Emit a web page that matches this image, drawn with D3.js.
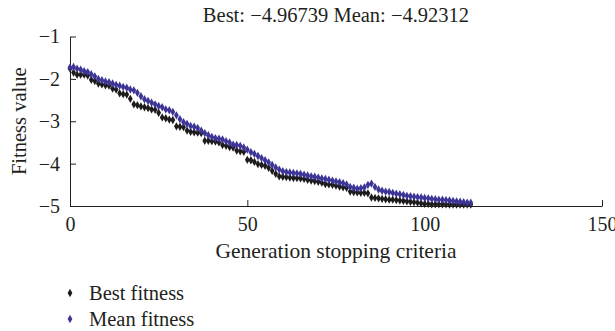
<!DOCTYPE html>
<html>
<head>
<meta charset="utf-8">
<script src="https://cdn.jsdelivr.net/npm/d3@7"></script>
<style>
  body { margin: 0; background: #fff; }
  svg text { font-family: "Liberation Serif", "DejaVu Serif", serif; fill: #231f20; }
</style>
</head>
<body>
<div id="chart"></div>
<script>
// values, one per generation (0..113)
const bestFitness = [
  -1.76, -1.85, -1.90, -1.90, -1.90, -1.92, -2.02, -2.05, -2.11, -2.13,
  -2.15, -2.16, -2.23, -2.25, -2.34, -2.36, -2.37, -2.47, -2.60, -2.62,
  -2.65, -2.67, -2.69, -2.72, -2.73, -2.80, -2.91, -2.93, -2.96, -2.97,
  -3.12, -3.13, -3.14, -3.22, -3.25, -3.26, -3.27, -3.28, -3.46, -3.46,
  -3.47, -3.48, -3.50, -3.56, -3.58, -3.61, -3.62, -3.69, -3.71, -3.72,
  -3.91, -3.92, -3.96, -4.01, -4.03, -4.05, -4.10, -4.17, -4.24, -4.30,
  -4.31, -4.32, -4.33, -4.34, -4.34, -4.35, -4.36, -4.38, -4.40, -4.41,
  -4.43, -4.45, -4.48, -4.49, -4.50, -4.52, -4.54, -4.56, -4.57, -4.66,
  -4.67, -4.68, -4.69, -4.69, -4.70, -4.80, -4.81, -4.82, -4.83, -4.84,
  -4.85, -4.85, -4.86, -4.87, -4.88, -4.89, -4.90, -4.91, -4.92, -4.94,
  -4.95, -4.95, -4.96, -4.96, -4.96, -4.96, -4.96, -4.967, -4.967, -4.967,
  -4.967, -4.967, -4.967, -4.967
];
const meanFitness = [
  -1.73, -1.72, -1.76, -1.78, -1.82, -1.84, -1.89, -1.94, -2.00, -2.03,
  -2.06, -2.08, -2.11, -2.14, -2.16, -2.19, -2.21, -2.25, -2.27, -2.33,
  -2.41, -2.48, -2.52, -2.56, -2.60, -2.64, -2.67, -2.72, -2.74, -2.78,
  -2.86, -2.95, -3.02, -3.06, -3.11, -3.13, -3.16, -3.22, -3.28, -3.33,
  -3.37, -3.40, -3.41, -3.43, -3.47, -3.50, -3.55, -3.56, -3.58, -3.62,
  -3.67, -3.73, -3.77, -3.82, -3.87, -3.92, -3.97, -4.03, -4.09, -4.14,
  -4.18, -4.20, -4.21, -4.22, -4.23, -4.24, -4.26, -4.28, -4.30, -4.31,
  -4.33, -4.35, -4.36, -4.38, -4.40, -4.42, -4.44, -4.46, -4.49, -4.55,
  -4.57, -4.59, -4.58, -4.56, -4.50, -4.47, -4.55, -4.61, -4.64, -4.66,
  -4.67, -4.69, -4.71, -4.72, -4.74, -4.76, -4.77, -4.78, -4.79, -4.80,
  -4.81, -4.82, -4.83, -4.84, -4.85, -4.85, -4.86, -4.87, -4.88, -4.89,
  -4.90, -4.91, -4.92, -4.923
];
const xTicks = [0, 50, 100, 150];
const yTicks = [-1, -2, -3, -4, -5];
const seriesNames = ["Best fitness", "Mean fitness"];
const titleText = "Best: −4.96739 Mean: −4.92312";

const width = 615, height = 331;
const colors = ["#1e1b1c", "#3d3596"];

const svg = d3.select("#chart").append("svg")
  .attr("width", width)
  .attr("height", height);

const x = d3.scaleLinear().domain([0, 150]).range([70, 602]);
const y = d3.scaleLinear().domain([-5, -1]).range([206, 36.5]);

// axes: ticks point inward, no outer ticks
const fmt = (d) => d3.format("d")(d).replace("-", "−");
const xAxis = svg.append("g")
  .attr("transform", `translate(0, ${y(-5)})`)
  .call(d3.axisBottom(x).tickValues(xTicks).tickFormat(fmt)
    .tickSizeInner(-6).tickSizeOuter(0).tickPadding(11));
const yAxis = svg.append("g")
  .attr("transform", `translate(${x(0)}, 0)`)
  .call(d3.axisLeft(y).tickValues(yTicks).tickFormat(fmt)
    .tickSizeInner(-6).tickSizeOuter(0).tickPadding(10));

[xAxis, yAxis].forEach((g) => {
  g.selectAll("path, line").attr("stroke", "#231f20").attr("stroke-width", 1);
  g.selectAll("text").style("font-size", "20px").attr("fill", "#231f20");
});

// title + axis titles
svg.append("text")
  .attr("x", (x(0) + x(150)) / 2)
  .attr("y", 22)
  .attr("text-anchor", "middle")
  .style("font-size", "20.5px")
  .text(titleText);

svg.append("text")
  .attr("x", (x(0) + x(150)) / 2)
  .attr("y", 258)
  .attr("text-anchor", "middle")
  .style("font-size", "21.5px")
  .text("Generation stopping criteria");

svg.append("text")
  .attr("transform", `translate(26, ${(y(-1) + y(-5)) / 2}) rotate(-90)`)
  .attr("text-anchor", "middle")
  .style("font-size", "20.5px")
  .text("Fitness value");

// markers
const diamond = d3.symbol().type(d3.symbolDiamond).size(20);
[bestFitness, meanFitness].forEach((vals, si) => {
  svg.append("g")
    .selectAll("path")
    .data(vals)
    .join("path")
    .attr("d", diamond)
    .attr("transform", (d, i) => `translate(${x(i)}, ${y(d)})`)
    .attr("fill", colors[si]);
});

// legend
const legend = svg.append("g").attr("transform", "translate(70, 293)");
const item = legend.selectAll("g")
  .data(seriesNames)
  .join("g")
  .attr("transform", (d, i) => `translate(0, ${i * 26})`);
item.append("path")
  .attr("d", d3.symbol().type(d3.symbolDiamond).size(20))
  .attr("fill", (d, i) => colors[i]);
item.append("text")
  .attr("x", 19)
  .attr("y", 7)
  .style("font-size", "20.5px")
  .text((d) => d);
</script>
</body>
</html>
